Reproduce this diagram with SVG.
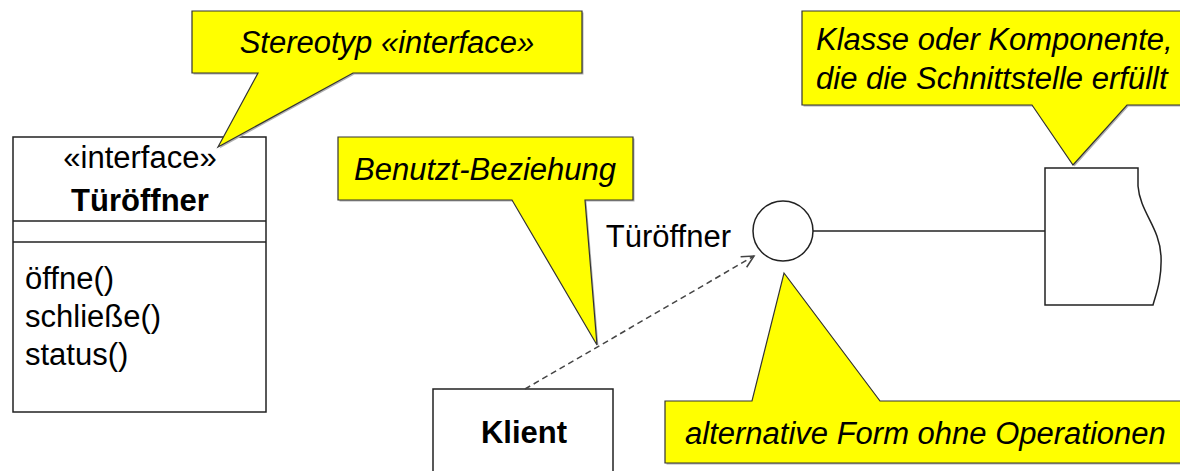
<svg xmlns="http://www.w3.org/2000/svg" width="1180" height="471" viewBox="0 0 1180 471">
  <defs>
    <style>
      .txt { font-family: "Liberation Sans", Arial, sans-serif; font-size: 31px; fill: #000; }
      .it { font-style: italic; }
      .b { font-weight: bold; }
      .box { fill: #fff; stroke: #222; stroke-width: 1.5; }
      .note { fill: #ffff00; stroke: #333; stroke-width: 1.2; stroke-linejoin: miter; }
      .shadow { fill: #b0b0b0; }
      .edge { fill: none; stroke: #222; stroke-width: 1.3; }
      .dash { fill: none; stroke: #444; stroke-width: 1.5; stroke-dasharray: 6 4; }
    </style>
    <marker id="openArrow" markerWidth="16" markerHeight="16" refX="13" refY="8" orient="auto" markerUnits="userSpaceOnUse">
      <path d="M1,2 L13,8 L1,14" fill="none" stroke="#444" stroke-width="1.5"/>
    </marker>
  </defs>

  <!-- interface class with operations compartment -->
  <g id="interface-tueroeffner">
    <rect class="box" x="13" y="137" width="253" height="275"/>
    <line class="edge" x1="13" y1="221" x2="266" y2="221"/>
    <line class="edge" x1="13" y1="242" x2="266" y2="242"/>
    <text class="txt" x="140" y="168" text-anchor="middle">«interface»</text>
    <text class="txt b" x="140" y="211" text-anchor="middle">Türöffner</text>
    <text class="txt" x="25" y="289">öffne()</text>
    <text class="txt" x="25" y="327">schließe()</text>
    <text class="txt" x="25" y="365">status()</text>
  </g>

  <!-- client class -->
  <g id="klient">
    <rect class="box" x="433" y="389" width="180" height="100"/>
    <text class="txt b" x="524" y="443" text-anchor="middle">Klient</text>
  </g>

  <!-- lollipop: provided interface -->
  <g id="lollipop">
    <circle class="box" cx="783" cy="231" r="30"/>
    <text class="txt" x="731" y="247" text-anchor="end">Türöffner</text>
  </g>

  <!-- implementing class / component -->
  <g id="komponente">
    <path class="box" d="M1045,168 H1138 L1138,186 C1140,212 1160,228 1161,256 C1162,280 1156,294 1153,305 H1045 Z"/>
  </g>

  <!-- connectors -->
  <g id="connectors">
    <line class="edge" x1="813" y1="231" x2="1045" y2="231"/>
    <line class="dash" x1="525" y1="389" x2="754" y2="256" marker-end="url(#openArrow)"/>
  </g>

  <!-- callout notes -->
  <g id="note-stereotyp">
    <path class="shadow" transform="translate(1.5,1.5)" d="M192,11 H582 V73 H353 L218,147 L258,73 H192 Z"/>
    <path class="note" d="M192,11 H582 V73 H353 L218,147 L258,73 H192 Z"/>
    <text class="txt it" x="387" y="53" text-anchor="middle">Stereotyp «interface»</text>
  </g>

  <g id="note-benutzt">
    <path class="shadow" transform="translate(1.5,1.5)" d="M338,137 H633 V200 H585 L597,345 L512,200 H338 Z"/>
    <path class="note" d="M338,137 H633 V200 H585 L597,345 L512,200 H338 Z"/>
    <text class="txt it" x="485" y="180" text-anchor="middle">Benutzt-Beziehung</text>
  </g>

  <g id="note-klasse">
    <path class="shadow" transform="translate(1.5,1.5)" d="M802,11 H1190 V105 H1127 L1073,165 L1032,105 H802 Z"/>
    <path class="note" d="M802,11 H1190 V105 H1127 L1073,165 L1032,105 H802 Z"/>
    <text class="txt it" x="816" y="50">Klasse oder Komponente,</text>
    <text class="txt it" x="816" y="89">die die Schnittstelle erfüllt</text>
  </g>

  <g id="note-alternativ">
    <path class="shadow" transform="translate(1.5,1.5)" d="M665,401 H752 L784,273 L880,401 H1190 V463 H665 Z"/>
    <path class="note" d="M665,401 H752 L784,273 L880,401 H1190 V463 H665 Z"/>
    <text class="txt it" x="685" y="444">alternative Form ohne Operationen</text>
  </g>
</svg>
